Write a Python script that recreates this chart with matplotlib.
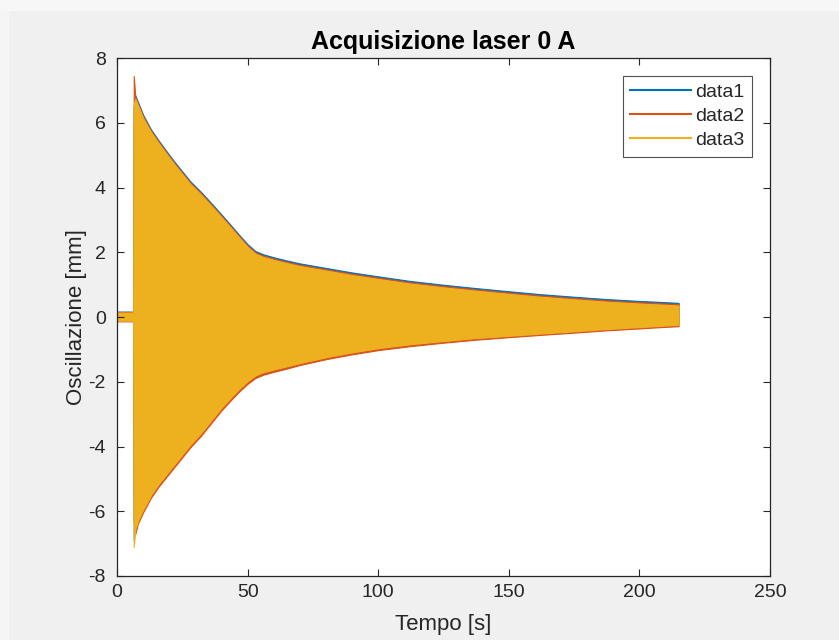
import matplotlib
matplotlib.use('Agg')
import matplotlib.pyplot as plt
from matplotlib.lines import Line2D
from matplotlib.patches import Rectangle

plt.rcParams['font.family'] = ['Liberation Sans', 'DejaVu Sans']
plt.rcParams['axes.unicode_minus'] = False

# envelope of the three acquisitions
t = [0, 6.2, 6.4, 7, 8, 10, 13, 16, 19, 22, 25, 28, 32, 36, 40, 44, 47, 50,
     53, 56, 60, 65, 70, 80, 90, 100, 112, 125, 137, 150, 162, 175, 187,
     200, 208, 215]

data1_upper = [0.17, 0.17, 6.5, 6.85, 6.65, 6.25, 5.8, 5.45, 5.12, 4.8, 4.5,
               4.2, 3.88, 3.53, 3.17, 2.8, 2.52, 2.25, 2.04, 1.94, 1.85, 1.75,
               1.66, 1.52, 1.38, 1.26, 1.12, 1.0, 0.9, 0.8, 0.71, 0.63, 0.56,
               0.5, 0.47, 0.44]
data1_lower = [-0.1, -0.1, -6.9, -6.45, -6.2, -5.85, -5.4, -5.05, -4.75,
               -4.45, -4.15, -3.85, -3.5, -3.1, -2.7, -2.35, -2.1, -1.88,
               -1.73, -1.64, -1.56, -1.46, -1.36, -1.19, -1.04, -0.92, -0.8,
               -0.7, -0.61, -0.54, -0.47, -0.4, -0.34, -0.28, -0.24, -0.21]

data2_upper = [0.16, 0.16, 7.45, 6.8, 6.6, 6.2, 5.76, 5.41, 5.08, 4.76, 4.46,
               4.16, 3.84, 3.49, 3.13, 2.76, 2.48, 2.21, 2.0, 1.9, 1.81,
               1.71, 1.62, 1.48, 1.34, 1.22, 1.08, 0.96, 0.86, 0.76, 0.67,
               0.59, 0.52, 0.46, 0.43, 0.4]
data2_lower = [-0.13, -0.13, -6.3, -6.7, -6.38, -6.03, -5.58, -5.23, -4.93,
               -4.63, -4.33, -4.03, -3.68, -3.28, -2.88, -2.53, -2.28, -2.06,
               -1.88, -1.78, -1.69, -1.59, -1.48, -1.3, -1.15, -1.02, -0.9,
               -0.79, -0.7, -0.62, -0.55, -0.48, -0.41, -0.35, -0.31, -0.28]

data3_upper = [0.14, 0.14, 6.6, 6.75, 6.55, 6.15, 5.72, 5.37, 5.04, 4.72,
               4.42, 4.12, 3.8, 3.45, 3.09, 2.72, 2.44, 2.17, 1.96, 1.86,
               1.77, 1.67, 1.58, 1.44, 1.3, 1.18, 1.04, 0.92, 0.82, 0.72,
               0.63, 0.55, 0.48, 0.42, 0.39, 0.36]
data3_lower = [-0.11, -0.11, -7.1, -6.55, -6.3, -5.95, -5.5, -5.15, -4.85,
               -4.55, -4.25, -3.95, -3.6, -3.2, -2.8, -2.45, -2.2, -1.98,
               -1.8, -1.7, -1.62, -1.52, -1.42, -1.24, -1.09, -0.96, -0.84,
               -0.74, -0.65, -0.58, -0.51, -0.44, -0.37, -0.31, -0.27, -0.24]

series = [('data1', data1_lower, data1_upper, '#0072BD'),
          ('data2', data2_lower, data2_upper, '#D95319'),
          ('data3', data3_lower, data3_upper, '#EDB120')]

fig = plt.figure(figsize=(8.39, 6.4), dpi=100, facecolor='#f0f0f0')
# lighter strips of the screenshot border
fig.patches.append(Rectangle((0, 0.984), 1, 0.016, transform=fig.transFigure,
                             color='#f7f7f7', zorder=0))
fig.patches.append(Rectangle((0, 0), 0.009, 0.984, transform=fig.transFigure,
                             color='#f5f5f5', zorder=0))

ax = fig.add_axes([0.1395, 0.1, 0.7783, 0.809])

handles = []
for name, lo, up, col in series:
    ax.fill_between(t, lo, up, color=col, lw=0.8, edgecolor=col)
    handles.append(Line2D([], [], color=col, lw=1.5, label=name))

ax.set_xlim(0, 250)
ax.set_ylim(-8, 8)
ax.set_xticks([0, 50, 100, 150, 200, 250])
ax.set_yticks([-8, -6, -4, -2, 0, 2, 4, 6, 8])
ax.tick_params(direction='in', top=True, right=True, length=5,
               labelsize=14, colors='#262626', width=0.8)
ax.tick_params(axis='y', pad=8)
ax.tick_params(axis='x', pad=6)
for s in ax.spines.values():
    s.set_color('#262626')
    s.set_linewidth(0.9)

ax.set_title('Acquisizione laser 0 A', fontsize=18, fontweight='bold',
             color='black', pad=7)
ax.set_xlabel('Tempo [s]', fontsize=16, color='#262626', labelpad=9)
ax.set_ylabel('Oscillazione [mm]', fontsize=16, color='#262626', labelpad=1)

leg = ax.legend(handles=handles, loc='upper right', fontsize=14,
                handlelength=3.1, handletextpad=0.25, frameon=True,
                fancybox=False, edgecolor='#262626', borderpad=0.38,
                labelspacing=0.33, borderaxespad=0,
                bbox_to_anchor=(0.9724, 0.9653))
leg.get_frame().set_linewidth(0.8)
for txt in leg.get_texts():
    txt.set_color('#262626')

fig.savefig('out.png', dpi=100, facecolor=fig.get_facecolor())
